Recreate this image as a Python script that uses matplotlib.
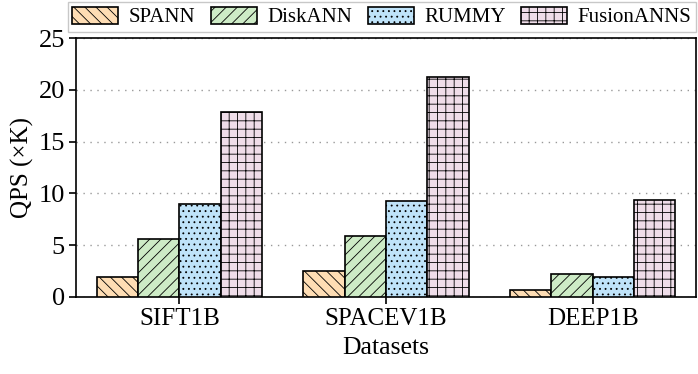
import matplotlib
matplotlib.use("Agg")
import matplotlib.pyplot as plt
import numpy as np

datasets = ["SIFT1B", "SPACEV1B", "DEEP1B"]
methods = ["SPANN", "DiskANN", "RUMMY", "FusionANNS"]
spann = [1.9, 2.5, 0.65]
diskann = [5.6, 5.87, 2.2]
rummy = [8.95, 9.25, 1.9]
fusion = [17.9, 21.2, 9.35]
yticks = [0, 5, 10, 15, 20, 25]

series = [spann, diskann, rummy, fusion]
colors = ["#FEDDB4", "#CDEBC6", "#BFE3F9", "#EFDDE9"]
hatches = ["\\\\\\", "///", "...", "++"]

plt.rcParams['font.family'] = ['Liberation Serif', 'DejaVu Serif']
plt.rcParams['hatch.color'] = '#3a3a3a'
plt.rcParams['hatch.linewidth'] = 0.6

fig = plt.figure(figsize=(6.98, 3.74), dpi=100)
ax = fig.add_axes([0.109, 0.206, 0.888, 0.692])

x = np.arange(len(datasets))
w = 0.2
for i, (vals, c, h, name) in enumerate(zip(series, colors, hatches, methods)):
    ax.bar(x + (i - 1.5) * w, vals, w, color=c, hatch=h, edgecolor='black',
           linewidth=1.2, label=name, zorder=3)

ax.set_xlim(-0.5, 2.5)
ax.set_ylim(0, 25)
ax.set_yticks(yticks)
ax.set_xticks(x)
ax.set_xticklabels(datasets)
ax.tick_params(axis='x', labelsize=18, direction='out', length=5, width=1.2, pad=3)
ax.tick_params(axis='y', labelsize=19, direction='out', length=5, width=1.2, pad=3)
ax.grid(axis='y', linestyle=(0, (1, 4)), color='#999999', linewidth=1.0, zorder=0)
for s in ax.spines.values():
    s.set_linewidth(1.2)
ax.set_ylabel("QPS (×K)", fontsize=18, labelpad=3)
ax.set_xlabel("Datasets", fontsize=18.5, labelpad=5)

leg = fig.legend(loc='upper center', bbox_to_anchor=(0.547, 1.0), ncol=4,
                 fontsize=15, frameon=True, fancybox=False, edgecolor='#BBBBBB',
                 handlelength=2.2, handleheight=0.9, columnspacing=0.75,
                 handletextpad=0.5, borderpad=0.22, borderaxespad=0.1)
leg.get_frame().set_linewidth(1.0)

fig.savefig("out.png", dpi=100)
